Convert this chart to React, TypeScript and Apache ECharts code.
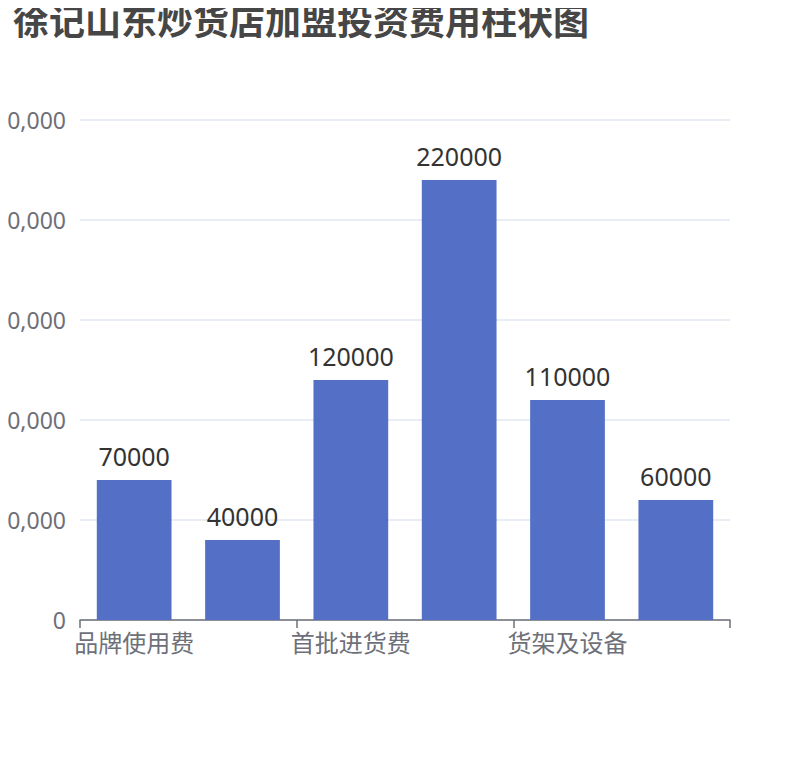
import React, { useEffect, useRef } from "react";
import * as echarts from "echarts";

const titleText = "徐记山东炒货店加盟投资费用柱状图";
const categories = ["品牌使用费", "加盟费", "首批进货费", "装修费", "货架及设备", "流动资金"];
const values = [70000, 40000, 120000, 220000, 110000, 60000];

const FONT = "'Noto Sans', 'Noto Sans CJK SC', sans-serif";

export default function App() {
  const ref = useRef<HTMLDivElement>(null);
  useEffect(() => {
    if (!ref.current) return;
    const chart = echarts.init(ref.current, undefined, { renderer: "svg" });
    chart.setOption({
      animation: false,
      textStyle: { fontFamily: FONT },
      title: {
        text: titleText,
        left: 0,
        top: -10,
        textStyle: { fontSize: 36, fontWeight: "bold", color: "#464646", fontFamily: FONT },
      },
      grid: {
        left: 72,
        right: 72,
        top: 112,
        bottom: 132,
        containLabel: false,
        outerBoundsMode: "none",
      },
      xAxis: {
        type: "category",
        data: categories,
        axisLabel: { interval: 1, fontSize: 24, color: "#6E7079", margin: 10, fontFamily: FONT },
        axisTick: { show: true, length: 8, lineStyle: { color: "#6E7079", width: 1.5 } },
        axisLine: { show: true, lineStyle: { color: "#6E7079", width: 1.5 } },
      },
      yAxis: {
        type: "value",
        min: 0,
        max: 250000,
        interval: 50000,
        axisLabel: { fontSize: 23, color: "#6E7079", margin: 14, fontFamily: FONT },
        splitLine: { lineStyle: { color: "#E0E6F1", width: 1.5 } },
      },
      series: [
        {
          type: "bar",
          data: values,
          barWidth: "69%",
          itemStyle: { color: "#5470c6" },
          label: {
            show: true,
            position: "top",
            distance: 12,
            fontSize: 25,
            color: "#333",
            fontFamily: FONT,
          },
        },
      ],
    });
    return () => chart.dispose();
  }, []);
  return <div ref={ref} style={{ width: 794, height: 744 }} />;
}
